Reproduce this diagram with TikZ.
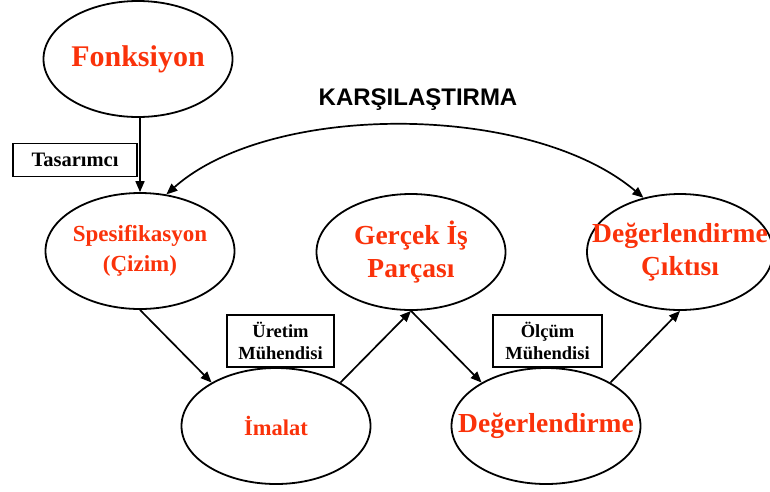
\documentclass[tikz,border=0pt]{standalone}
\usepackage{fontspec}
\setmainfont{Liberation Serif}
\newfontfamily\headsans{Liberation Sans}
\usetikzlibrary{shapes.geometric,arrows.meta}
\definecolor{termred}{RGB}{250,50,10}
\tikzset{
  stage/.style={draw=black, line width=1.8pt, ellipse, inner sep=0pt,
    minimum width=189pt, minimum height=116pt},
  stagetext/.style={text=termred, font=\bfseries, align=center, inner sep=0pt},
  rolebox/.style={draw=black, line width=1.6pt, rectangle, inner sep=0pt,
    align=center, font=\bfseries\fontsize{18.5}{22}\selectfont},
  tip/.style={Triangle[length=11pt,width=9pt]},
  flow/.style={line width=1.7pt, -{Triangle[length=11pt,width=9pt]}},
}
\begin{document}
\begin{tikzpicture}[x=1pt,y=-1pt]
\useasboundingbox (0,0) rectangle (770,491);
\clip (0,0) rectangle (770,491);

% process stages
\node[stage, label={[stagetext, font=\bfseries\fontsize{30}{34}\selectfont]center:Fonksiyon}] (fonk) at (138,59) {};
\node[stage, label={[stagetext, font=\bfseries\fontsize{23}{30}\selectfont]center:Spesifikasyon\\(Çizim)}] (spec) at (140,251) {};
\node[stage, label={[stagetext, font=\bfseries\fontsize{27.5}{33}\selectfont]center:Gerçek İş\\Parçası}] (parca) at (411,252) {};
\node[stage, minimum width=186pt, label={[stagetext, font=\bfseries\fontsize{27.5}{33}\selectfont]center:Değerlendirme\\Çıktısı}] (cikti) at (680,252) {};
\node[stage, label={[stagetext, font=\bfseries\fontsize{22.5}{26}\selectfont]center:İmalat}] (imalat) at (276,426) {};
\node[stage, label={[stagetext, font=\bfseries\fontsize{27.5}{33}\selectfont]center:Değerlendirme}] (deger) at (546,426) {};

% role labels
\node[rolebox, minimum width=124pt, minimum height=33pt, font=\bfseries\fontsize{20.5}{24}\selectfont] (tasarimci) at (75,160) {Tasarımcı};
\node[rolebox, minimum width=107pt, minimum height=52pt] (uretim) at (280.5,341) {Üretim\\Mühendisi};
\node[rolebox, minimum width=109pt, minimum height=52pt] (olcum) at (547.5,341) {Ölçüm\\Mühendisi};

% comparison label
\node[font=\headsans\bfseries\fontsize{24}{28}\selectfont, inner sep=0pt] (karsi) at (418,100) {KARŞILAŞTIRMA};

% flow arrows
\draw[flow] (fonk.south -| spec.north) -- (spec.north);
\draw[flow] (spec.south) -- (imalat.146);
\draw[flow] (imalat.34) -- (parca.south);
\draw[flow] (parca.south) -- (deger.146);
\draw[flow] (deger.34) -- (cikti.south);

% comparison arc between specification and evaluation output
\draw[line width=1.7pt, {Triangle[length=11pt,width=9pt]}-{Triangle[length=11pt,width=9pt]}]
  (spec.65) .. controls (270,102) and (530,102) .. (cikti.124);
\end{tikzpicture}
\end{document}
